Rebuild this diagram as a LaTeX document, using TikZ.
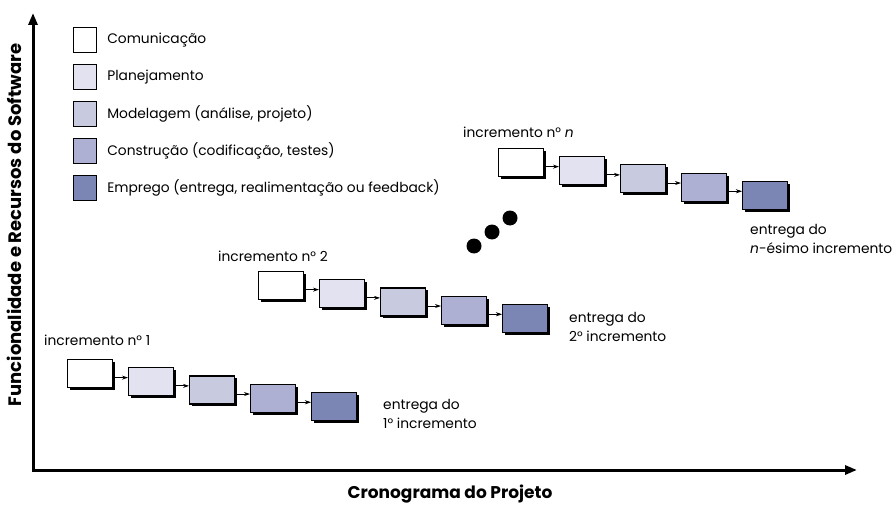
\documentclass[tikz,border=0pt]{standalone}
\usepackage{fontspec}
\setmainfont{Poppins}
\usetikzlibrary{arrows.meta,shadows,calc}
\definecolor{comcor}{RGB}{255,255,255}
\definecolor{plancor}{RGB}{226,226,240}
\definecolor{modcor}{RGB}{200,202,224}
\definecolor{constcor}{RGB}{173,176,210}
\definecolor{empcor}{RGB}{123,134,180}
\begin{document}
\begin{tikzpicture}[x=1pt, y=-1pt, font=\fontsize{13.8}{19}\selectfont,
  fase/.style={draw=black, line width=1.1pt, minimum width=45pt, minimum height=28pt,
    inner sep=0pt, anchor=north west,
    drop shadow={shadow xshift=2.5pt, shadow yshift=-2.5pt, opacity=1, fill=black}},
  legbox/.style={draw=black, line width=1.1pt, minimum width=23pt, minimum height=25pt,
    inner sep=0pt, anchor=north west},
  seta/.style={line width=0.8pt, -{Stealth[length=6pt,width=4pt]}},
  rotulo/.style={anchor=west, align=left, inner sep=0pt}]
\useasboundingbox (0,0) rectangle (892,516);
%% --- axes ---
\coordinate (topo) at (33,13);
\coordinate (origem) at (33,470);
\coordinate (fim) at (857,470);
\draw[line width=3pt, line join=miter, {Triangle[length=12pt,width=9pt]}-{Triangle[length=12pt,width=9pt]}]
  (topo) -- (origem) -- (fim);
\node[rotate=90, font=\fontsize{18}{20}\selectfont\bfseries] (eixoy) at (14,225)
  {Funcionalidade e Recursos do Software};
\node[font=\fontsize{17}{20}\selectfont\bfseries] (eixox) at (450,494) {Cronograma do Projeto};

%% --- legend ---
\foreach \k/\cor/\txt in {0/comcor/Comunicação, 1/plancor/Planejamento,
    2/modcor/{Modelagem (análise, projeto)}, 3/constcor/{Construção (codificação, testes)},
    4/empcor/{Emprego (entrega, realimentação ou feedback)}}{
  \node[legbox, fill=\cor] (leg\k) at (73,{27+37*\k}) {};
  \node[rotulo] (legtxt\k) at ([xshift=10pt]leg\k.east) {\txt};
}

%% --- increments: first box at (x0,y0), step 61 x 8.2 ---
\foreach \inc/\xo/\yo in {a/67/359, b/258/271, c/498/148}{
  \foreach \i/\cor in {1/comcor, 2/plancor, 3/modcor, 4/constcor, 5/empcor}{
    \node[fase, fill=\cor] (\inc\i) at ({\xo+61*(\i-1)},{\yo+8.2*(\i-1)}) {};
  }
  \foreach \i/\j in {1/2, 2/3, 3/4, 4/5}{
    \coordinate (m\inc\i) at ($(\inc\i.center)!0.5!(\inc\j.center)$);
    \draw[seta] (\inc\i.east |- m\inc\i) -- (\inc\j.west |- m\inc\i);
  }
}

%% --- labels ---
\node[rotulo] (lba) at (44,340) {incremento n° 1};
\node[rotulo] (lbb) at (218,256) {incremento n° 2};
\node[rotulo] (lbc) at (463,132) {incremento n° \textit{n}};
\node[rotulo, anchor=north west] (ea) at (383,399) {entrega do\\1° incremento};
\node[rotulo, anchor=north west] (eb) at (569,312) {entrega do\\2° incremento};
\node[rotulo, anchor=north west] (ec) at (750,224) {entrega do\\\textit{n}-ésimo incremento};

%% --- dots ---
\foreach \k/\x/\y in {1/474/246, 2/492/232, 3/510/218}{
  \fill (\x,\y) circle (7.5pt) coordinate (ponto\k);
}
\end{tikzpicture}
\end{document}
